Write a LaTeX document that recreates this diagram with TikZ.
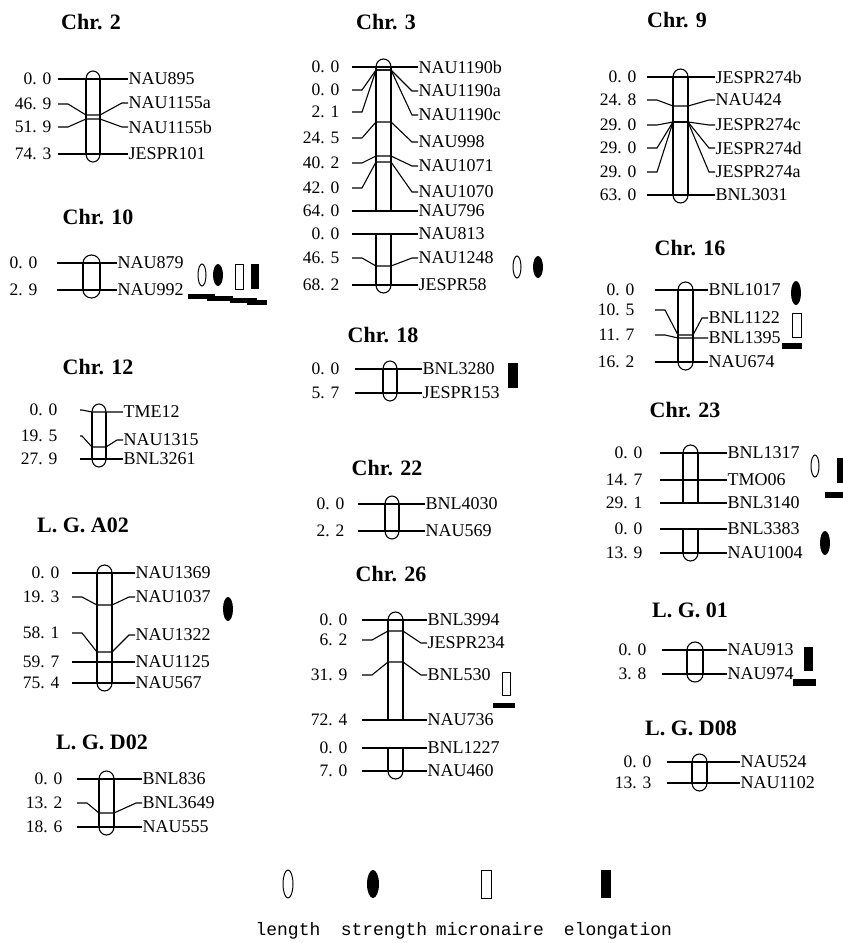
\documentclass[tikz,border=0pt]{standalone}
\usepackage{fontspec}
\setmainfont{Liberation Serif}
\setmonofont{Liberation Mono}
\usetikzlibrary{positioning}

\tikzset{
  lab/.style={font=\fontsize{18}{18}\selectfont, inner sep=0pt, anchor=west},
  num/.style={font=\fontsize{17.5}{18}\selectfont, inner sep=0pt, anchor=east},
  ttl/.style={font=\fontsize{22}{22}\selectfont\bfseries, inner sep=0pt},
  leg/.style={font=\fontsize{18}{18}\selectfont\ttfamily, inner sep=0pt, text height=11pt, text depth=4pt},
  qopen/.style={draw, line width=1pt},
  qfill/.style={fill=black},
}

% x of number edge, line start, bar left, bar right, label
\newcommand{\setgrp}[5]{\def\xn{#1}\def\xa{#2}\def\xl{#3}\def\xr{#4}\def\xc{#5}}
% id, number, marker, y left, y on bar, y right
\newcommand{\mk}[6]{%
  \pgfmathsetmacro\xbl{min(\xa+10,\xl-10)}%
  \pgfmathsetmacro\xbr{max(\xc-6,\xr+8)}%
  \coordinate (s#1) at (\xa,#4);
  \node[num] (n#1) at (\xn,#4) {#2};
  \node[lab] (l#1) at (\xc,#6) {#3};
  \draw (s#1) -- (\xbl,#4) -- (\xl,#5) -- (\xr,#5) -- (\xbr,#6) -- (l#1.west);
}
\newcommand{\chrbar}[2]{\draw (\xl,#1) -- (\xl,#2) (\xr,#1) -- (\xr,#2);}
\newcommand{\tcap}[1]{\draw (\xl,#1) arc[start angle=180, end angle=360, x radius={(\xr-\xl)/2}, y radius=8];}
\newcommand{\bcap}[1]{\draw (\xl,#1) arc[start angle=180, end angle=0, x radius={(\xr-\xl)/2}, y radius=8];}

\begin{document}
\begin{tikzpicture}[x=1pt, y=-1pt, line width=1.1pt]
  \fill[white] (0,0) rectangle (843,943);
  \useasboundingbox (0,0) rectangle (843,943);

  % Chr. 2
  \node[ttl] (t2) at (91,22) {Chr. 2};
  \setgrp{52}{58}{86}{100}{128}
  \chrbar{79}{154} \tcap{79} \bcap{154}
  \mk{c2a}{0. 0}{NAU895}{79}{79}{79}
  \mk{c2b}{46. 9}{NAU1155a}{104}{115}{103}
  \mk{c2c}{51. 9}{NAU1155b}{127}{119}{127}
  \mk{c2d}{74. 3}{JESPR101}{154}{154}{154}

  % Chr. 10
  \node[ttl] (t10) at (98,217) {Chr. 10};
  \setgrp{38}{57}{83}{100}{117}
  \chrbar{263}{290} \tcap{263} \bcap{290}
  \mk{c10a}{0. 0}{NAU879}{263}{263}{263}
  \mk{c10b}{2. 9}{NAU992}{290}{290}{290}
  \draw[qopen] (202,275) ellipse (4 and 11);
  \fill[qfill] (218,275) ellipse (5 and 11);
  \draw[qopen] (235,264) rectangle (243,289);
  \fill[qfill] (251,264) rectangle (259,289);
  \fill[qfill] (188,294) rectangle (215,299);
  \fill[qfill] (207,296) rectangle (233,301);
  \fill[qfill] (230,298) rectangle (257,303);
  \fill[qfill] (247,300) rectangle (267,305);

  % Chr. 12
  \node[ttl] (t12) at (98,367) {Chr. 12};
  \setgrp{58}{80}{92}{106}{123}
  \chrbar{412}{459} \tcap{412} \bcap{459}
  \mk{c12a}{0. 0}{TME12}{410}{412}{412}
  \mk{c12b}{19. 5}{NAU1315}{436}{447}{440}
  \mk{c12c}{27. 9}{BNL3261}{459}{459}{459}

  % L.G. A02
  \node[ttl] (ta02) at (83,525) {L. G. A02};
  \setgrp{60}{72}{97}{112}{135}
  \chrbar{573}{683} \tcap{573} \bcap{683}
  \mk{a2a}{0. 0}{NAU1369}{573}{573}{573}
  \mk{a2b}{19. 3}{NAU1037}{597}{605}{597}
  \mk{a2c}{58. 1}{NAU1322}{633}{652}{635}
  \mk{a2d}{59. 7}{NAU1125}{662}{662}{662}
  \mk{a2e}{75. 4}{NAU567}{683}{683}{683}
  \fill[qfill] (228,609) ellipse (5 and 12);

  % L.G. D02
  \node[ttl] (td02) at (102,742) {L. G. D02};
  \setgrp{63}{77}{99}{114}{142}
  \chrbar{779}{827} \tcap{779} \bcap{827}
  \mk{d2a}{0. 0}{BNL836}{779}{779}{779}
  \mk{d2b}{13. 2}{BNL3649}{803}{813}{803}
  \mk{d2c}{18. 6}{NAU555}{827}{827}{827}

  % Chr. 3
  \node[ttl] (t3) at (386,22) {Chr. 3};
  \setgrp{340}{352}{376}{391}{418}
  \chrbar{67}{211} \tcap{67}
  \chrbar{234}{285} \bcap{285}
  \mk{c3a}{0. 0}{NAU1190b}{67}{67}{67}
  \mk{c3b}{0. 0}{NAU1190a}{90}{70}{91}
  \mk{c3c}{2. 1}{NAU1190c}{112}{70}{115}
  \mk{c3d}{24. 5}{NAU998}{138}{122}{142}
  \mk{c3e}{40. 2}{NAU1071}{163}{156}{166}
  \mk{c3f}{42. 0}{NAU1070}{188}{162}{192}
  \mk{c3g}{64. 0}{NAU796}{211}{211}{211}
  \mk{c3h}{0. 0}{NAU813}{234}{234}{234}
  \mk{c3i}{46. 5}{NAU1248}{258}{266}{258}
  \mk{c3j}{68. 2}{JESPR58}{285}{285}{285}
  \draw[qopen] (517,267) ellipse (4 and 11);
  \fill[qfill] (538,267) ellipse (5 and 11);

  % Chr. 18
  \node[ttl] (t18) at (383,335) {Chr. 18};
  \setgrp{340}{355}{383}{397}{422}
  \chrbar{369}{393} \tcap{369} \bcap{393}
  \mk{c18a}{0. 0}{BNL3280}{369}{369}{369}
  \mk{c18b}{5. 7}{JESPR153}{393}{393}{393}
  \fill[qfill] (508,363) rectangle (518,388);

  % Chr. 22
  \node[ttl] (t22) at (387,468) {Chr. 22};
  \setgrp{345}{358}{385}{399}{425}
  \chrbar{504}{531} \tcap{504} \bcap{531}
  \mk{c22a}{0. 0}{BNL4030}{504}{504}{504}
  \mk{c22b}{2. 2}{NAU569}{531}{531}{531}

  % Chr. 26
  \node[ttl] (t26) at (391,574) {Chr. 26};
  \setgrp{348}{362}{388}{403}{427}
  \chrbar{620}{720} \tcap{620}
  \chrbar{748}{771} \bcap{771}
  \mk{c26a}{0. 0}{BNL3994}{620}{620}{620}
  \mk{c26b}{6. 2}{JESPR234}{640}{631}{643}
  \mk{c26c}{31. 9}{BNL530}{675}{662}{675}
  \mk{c26d}{72. 4}{NAU736}{720}{720}{720}
  \mk{c26e}{0. 0}{BNL1227}{748}{748}{748}
  \mk{c26f}{7. 0}{NAU460}{771}{771}{771}
  \draw[qopen] (502,672) rectangle (510,695);
  \fill[qfill] (493,703) rectangle (515,708);

  % Chr. 9
  \node[ttl] (t9) at (677,20) {Chr. 9};
  \setgrp{637}{647}{673}{688}{715}
  \chrbar{77}{195} \tcap{77} \bcap{195}
  \mk{c9a}{0. 0}{JESPR274b}{77}{77}{77}
  \mk{c9b}{24. 8}{NAU424}{100}{106}{100}
  \mk{c9c}{29. 0}{JESPR274c}{125}{122}{125}
  \mk{c9d}{29. 0}{JESPR274d}{148}{122}{148}
  \mk{c9e}{29. 0}{JESPR274a}{172}{122}{172}
  \mk{c9f}{63. 0}{BNL3031}{195}{195}{195}

  % Chr. 16
  \node[ttl] (t16) at (690,248) {Chr. 16};
  \setgrp{635}{655}{678}{693}{708}
  \chrbar{290}{362} \tcap{290} \bcap{362}
  \mk{c16a}{0. 0}{BNL1017}{290}{290}{290}
  \mk{c16b}{10. 5}{BNL1122}{310}{335}{318}
  \mk{c16c}{11. 7}{BNL1395}{335}{338}{338}
  \mk{c16d}{16. 2}{NAU674}{362}{362}{362}
  \fill[qfill] (796,293) ellipse (5 and 12);
  \draw[qopen] (792,313) rectangle (801,337);
  \fill[qfill] (782,343) rectangle (802,349);

  % Chr. 23
  \node[ttl] (t23) at (685,410) {Chr. 23};
  \setgrp{643}{660}{683}{698}{727}
  \chrbar{453}{503} \tcap{453}
  \chrbar{529}{553} \bcap{553}
  \mk{c23a}{0. 0}{BNL1317}{453}{453}{453}
  \mk{c23b}{14. 7}{TMO06}{480}{480}{480}
  \mk{c23c}{29. 1}{BNL3140}{503}{503}{503}
  \mk{c23d}{0. 0}{BNL3383}{529}{529}{529}
  \mk{c23e}{13. 9}{NAU1004}{553}{553}{553}
  \draw[qopen] (815,466) ellipse (4 and 11);
  \fill[qfill] (837,458) rectangle (845,483);
  \fill[qfill] (825,492) rectangle (845,498);
  \fill[qfill] (825,543) ellipse (5 and 12);

  % L.G. 01
  \node[ttl] (t01) at (690,610) {L. G. 01};
  \setgrp{647}{662}{687}{703}{727}
  \chrbar{650}{674} \tcap{650} \bcap{674}
  \mk{l1a}{0. 0}{NAU913}{650}{650}{650}
  \mk{l1b}{3. 8}{NAU974}{674}{674}{674}
  \fill[qfill] (804,647) rectangle (813,671);
  \fill[qfill] (793,679) rectangle (816,686);

  % L.G. D08
  \node[ttl] (td08) at (691,728) {L. G. D08};
  \setgrp{652}{667}{692}{707}{740}
  \chrbar{762}{783} \tcap{762} \bcap{783}
  \mk{d8a}{0. 0}{NAU524}{762}{762}{762}
  \mk{d8b}{13. 3}{NAU1102}{783}{783}{783}

  % legend
  \draw[qopen] (288,884) ellipse (5 and 14);
  \fill[qfill] (373,884) ellipse (6 and 14);
  \draw[qopen] (481,870) rectangle (491,898);
  \fill[qfill] (601,870) rectangle (611,898);
  \node[leg] (klen) at (288,932) {length};
  \node[leg] (kstr) at (384,932) {strength};
  \node[leg] (kmic) at (490,932) {micronaire};
  \node[leg] (kelo) at (618,932) {elongation};
\end{tikzpicture}
\end{document}
